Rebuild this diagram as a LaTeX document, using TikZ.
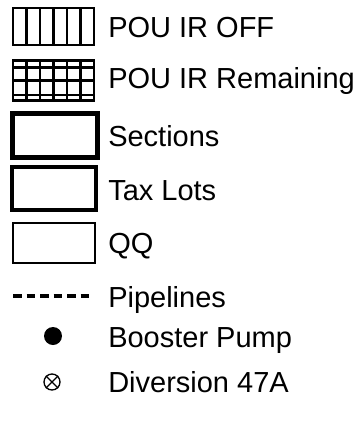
\documentclass[tikz,border=0pt]{standalone}
\usepackage{fontspec}
\setmainfont{Liberation Sans}
\usepackage{tikz}

\tikzset{
	legtext/.style={anchor=base west, inner sep=0pt, font=\fontsize{21.75}{26}\selectfont},
	hatch/.style={line width=1.6pt},
	grid/.style={line width=2pt}
}

\begin{document}
\begin{tikzpicture}[x=0.75pt,y=-0.75pt]
			\useasboundingbox (0,0) rectangle (361,425);
			
			\draw[hatch] (13,8) rectangle (94,45);
			\foreach \i in {1,...,5}
				\draw[hatch] (13+\i*13.5,8) -- (13+\i*13.5,45);
			\node[legtext] (off) at (108,37) {POU IR OFF};
			
			\draw[grid] (13,60.5) rectangle (94,100.5);
			\foreach \i in {1,...,5}
				\draw[grid] (13+\i*13.5,60.5) -- (13+\i*13.5,100.5);
			\foreach \j in {67.3,80.8,95}
				\draw[grid] (13,\j) -- (94,\j);
			\node[legtext] (remaining) at (108,88) {POU IR Remaining};
			
			\draw[line width=3.75pt] (12,113) rectangle (97,157);
			\node[legtext] (sections) at (108,146) {Sections};
			
			\draw[line width=2.6pt] (12,167) rectangle (96,210);
			\node[legtext] (taxlots) at (108,200) {Tax Lots};
			
			\draw[line width=1.2pt] (13,223) rectangle (95,263);
			\node[legtext] (qq) at (108,253) {QQ};
			
			\draw[line width=3pt, dash pattern=on 6.4pt off 3.75pt] (13,296) -- (89,296);
			\node[legtext] (pipelines) at (108,307) {Pipelines};
			
			\node[circle, fill, minimum size=13.5pt, inner sep=0pt] (pump) at (53,336) {};
			\node[legtext] (booster) at (108,347) {Booster Pump};
			
			\node[circle, draw, line width=1pt, minimum size=12pt, inner sep=0pt] (div) at (52,382) {};
			\draw[line width=1pt] (div.north west) -- (div.south east);
			\draw[line width=1pt] (div.north east) -- (div.south west);
			\node[legtext] (diversion) at (108,392) {Diversion 47A};
			
		\end{tikzpicture}
\end{document}
